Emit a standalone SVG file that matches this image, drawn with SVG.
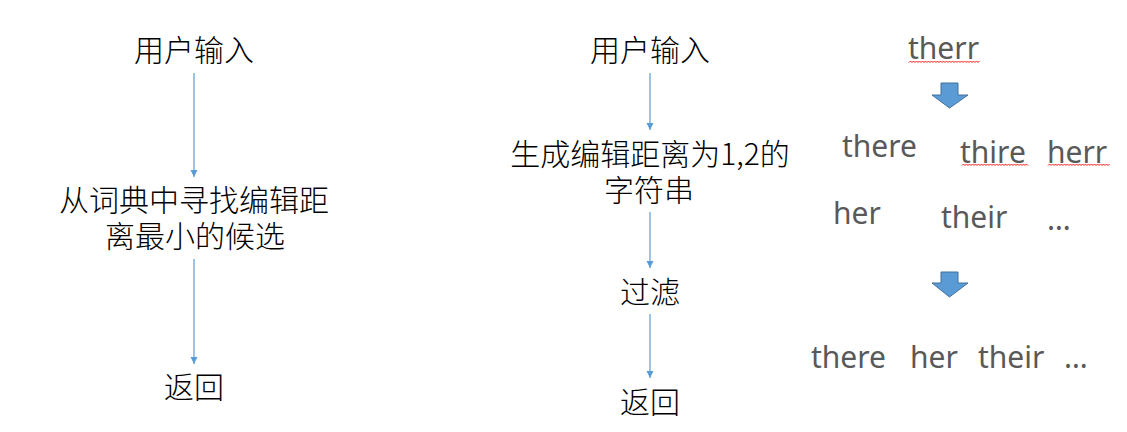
<svg xmlns="http://www.w3.org/2000/svg" width="1127" height="432" viewBox="0 0 1127 432">
<style>
.zh{font-family:"Noto Sans CJK SC","Noto Sans",sans-serif;font-size:30px;font-weight:300;fill:#000;text-anchor:middle}
.en{font-family:"Noto Sans","Open Sans",sans-serif;font-size:30px;fill:#595959}
.conn{stroke:#5b9bd5;stroke-width:1.2;fill:none}
.fat{fill:#5b9bd5;stroke:#41719c;stroke-width:1}
.wave{stroke:#ff0000;stroke-width:0.9;fill:none}
</style>
<defs>
<marker id="ah" markerWidth="8" markerHeight="8" refX="7" refY="4" orient="auto" markerUnits="userSpaceOnUse">
<path d="M0,0.5 L7,4 L0,7.5 Z" fill="#5b9bd5"/>
</marker>
</defs>
<rect width="1127" height="432" fill="#fff"/>
<g id="connectors">
<line class="conn" x1="194" y1="73" x2="194" y2="177" marker-end="url(#ah)"/>
<line class="conn" x1="194" y1="259" x2="194" y2="364" marker-end="url(#ah)"/>
<line class="conn" x1="650" y1="73" x2="650" y2="130" marker-end="url(#ah)"/>
<line class="conn" x1="650" y1="212" x2="650" y2="268" marker-end="url(#ah)"/>
<line class="conn" x1="650" y1="314" x2="650" y2="378" marker-end="url(#ah)"/>
</g>
<g id="l-input"><text class="zh" x="194" y="61">用户输入</text></g>
<g id="l-search"><text class="zh"><tspan x="194" y="211">从词典中寻找编辑距</tspan><tspan x="195" y="247">离最小的候选</tspan></text></g>
<g id="l-return"><text class="zh" x="194" y="398">返回</text></g>
<g id="r-input"><text class="zh" x="650" y="61">用户输入</text></g>
<g id="r-gen"><text class="zh"><tspan x="650" y="165">生成编辑距离为1,2的</tspan><tspan x="649" y="201">字符串</tspan></text></g>
<g id="r-filter"><text class="zh" x="650" y="303">过滤</text></g>
<g id="r-return"><text class="zh" x="650" y="413">返回</text></g>
<g id="example">
<text class="en" x="908" y="59">therr</text>
<path class="fat" d="M941,83 H958 V95 H968 L949.5,108 L932,95 H941 Z"/>
<text class="en" x="842" y="157">there</text>
<text class="en" x="960" y="163">thire</text>
<text class="en" x="1047" y="163">herr</text>
<text class="en" x="833" y="224">her</text>
<text class="en" x="941" y="228">their</text>
<text class="en" x="1047" y="230">…</text>
<path class="fat" d="M941,272 H958 V283 H968 L949.5,297 L932,283 H941 Z"/>
<text class="en" x="811" y="368">there</text>
<text class="en" x="910" y="368">her</text>
<text class="en" x="978" y="368">their</text>
<text class="en" x="1064" y="368" letter-spacing="1">…</text>
<path class="wave" d="M909,62.5 l1.5,-1.5 l1.5,1.5 l1.5,-1.5 l1.5,1.5 l1.5,-1.5 l1.5,1.5 l1.5,-1.5 l1.5,1.5 l1.5,-1.5 l1.5,1.5 l1.5,-1.5 l1.5,1.5 l1.5,-1.5 l1.5,1.5 l1.5,-1.5 l1.5,1.5 l1.5,-1.5 l1.5,1.5 l1.5,-1.5 l1.5,1.5 l1.5,-1.5 l1.5,1.5 l1.5,-1.5 l1.5,1.5 l1.5,-1.5 l1.5,1.5 l1.5,-1.5 l1.5,1.5 l1.5,-1.5 l1.5,1.5 l1.5,-1.5 l1.5,1.5 l1.5,-1.5 l1.5,1.5 l1.5,-1.5 l1.5,1.5 l1.5,-1.5 l1.5,1.5 l1.5,-1.5 l1.5,1.5 l1.5,-1.5 l1.5,1.5 l1.5,-1.5 l1.5,1.5 l1.5,-1.5 l1.5,1.5 l1.5,-1.5"/>
<path class="wave" d="M962,165.5 l1.5,-1.5 l1.5,1.5 l1.5,-1.5 l1.5,1.5 l1.5,-1.5 l1.5,1.5 l1.5,-1.5 l1.5,1.5 l1.5,-1.5 l1.5,1.5 l1.5,-1.5 l1.5,1.5 l1.5,-1.5 l1.5,1.5 l1.5,-1.5 l1.5,1.5 l1.5,-1.5 l1.5,1.5 l1.5,-1.5 l1.5,1.5 l1.5,-1.5 l1.5,1.5 l1.5,-1.5 l1.5,1.5 l1.5,-1.5 l1.5,1.5 l1.5,-1.5 l1.5,1.5 l1.5,-1.5 l1.5,1.5 l1.5,-1.5 l1.5,1.5 l1.5,-1.5 l1.5,1.5 l1.5,-1.5 l1.5,1.5 l1.5,-1.5 l1.5,1.5 l1.5,-1.5 l1.5,1.5 l1.5,-1.5 l1.5,1.5 l1.5,-1.5 l1.5,1.5"/>
<path class="wave" d="M1048,165.5 l1.5,-1.5 l1.5,1.5 l1.5,-1.5 l1.5,1.5 l1.5,-1.5 l1.5,1.5 l1.5,-1.5 l1.5,1.5 l1.5,-1.5 l1.5,1.5 l1.5,-1.5 l1.5,1.5 l1.5,-1.5 l1.5,1.5 l1.5,-1.5 l1.5,1.5 l1.5,-1.5 l1.5,1.5 l1.5,-1.5 l1.5,1.5 l1.5,-1.5 l1.5,1.5 l1.5,-1.5 l1.5,1.5 l1.5,-1.5 l1.5,1.5 l1.5,-1.5 l1.5,1.5 l1.5,-1.5 l1.5,1.5 l1.5,-1.5 l1.5,1.5 l1.5,-1.5 l1.5,1.5 l1.5,-1.5 l1.5,1.5 l1.5,-1.5 l1.5,1.5 l1.5,-1.5 l1.5,1.5 l1.5,-1.5"/>
</g>
</svg>
